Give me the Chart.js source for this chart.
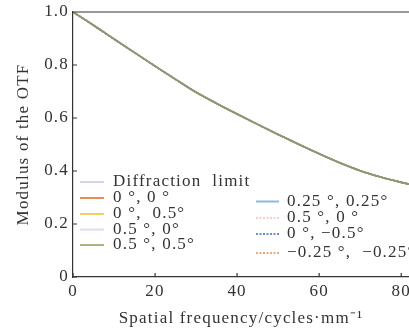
<!DOCTYPE html>
<html>
<head>
<meta charset="utf-8">
<script src="https://cdn.jsdelivr.net/npm/chart.js@4/dist/chart.umd.min.js"></script>
<style>
  body { margin: 0; background: #fff; overflow: hidden; }
  canvas { display: block; }
</style>
</head>
<body>
<canvas id="otf-chart" width="409" height="329"></canvas>
<script>
// spatial frequency (cycles/mm)
let freq = [0, 5, 10, 15, 20, 25, 30, 35, 40, 45, 50, 55, 60, 65, 70, 75, 80, 82];
// modulus of the OTF (all fields overlap the diffraction limit)
let mtf = [1.0, 0.95, 0.898, 0.847, 0.796, 0.746, 0.697, 0.655, 0.615, 0.576, 0.538, 0.501, 0.465, 0.431, 0.401, 0.377, 0.357, 0.35];

let seriesNames = ['Diffraction  limit', '0 °, 0 °', '0 °,  0.5°', '0.5 °, 0°', '0.5 °, 0.5°',
                   '0.25 °, 0.25°', '0.5 °, 0 °', '0 °, −0.5°', '−0.25 °,  −0.25°'];
let seriesColors = ['rgba(200,205,232,0.8)', 'rgba(224,112,44,0.8)', 'rgba(240,192,64,0.8)',
                    'rgba(210,214,236,0.8)', 'rgba(140,156,92,0.75)', 'rgba(91,155,213,0.7)',
                    'rgba(242,196,180,0.8)', 'rgba(70,112,196,0.8)', 'rgba(232,144,92,0.8)'];
let seriesDash = [[], [], [], [], [], [], [2, 1.5], [2, 1.5], [2, 1.5]];
// drawing order: lower is on top
let seriesOrder = [8, 4, 5, 7, 0, 1, 6, 3, 2];

let xTicks = [0, 20, 40, 60, 80];
let yTicks = [0, 0.2, 0.4, 0.6, 0.8, 1.0];

let serif = "'Liberation Serif', 'Times New Roman', serif";
let ink = '#333';

let ctx = document.getElementById('otf-chart').getContext('2d');

let datasets = seriesNames.map((name, i) => ({
    label: name,
    data: freq.map((f, k) => ({ x: f, y: mtf[k] })),
    borderColor: seriesColors[i],
    borderDash: seriesDash[i],
    borderWidth: 1.6,
    order: seriesOrder[i],
    pointRadius: 0,
    cubicInterpolationMode: 'monotone',
    fill: false
}));

// letter spacing like the original typesetting
let spacingPlugin = {
    id: 'spacing',
    beforeLayout(chart) { chart.ctx.letterSpacing = '1.2px'; },
    beforeDraw(chart) { chart.ctx.letterSpacing = '1.2px'; }
};

// inward tick marks, top frame line and the two-column legend
let decorPlugin = {
    id: 'decor',
    afterDraw(chart) {
        let c = chart.ctx;
        let a = chart.chartArea;
        let xs = chart.scales.x, ys = chart.scales.y;
        c.save();
        c.strokeStyle = ink;
        c.lineWidth = 1.2;
        c.beginPath();
        c.moveTo(a.left, a.top);
        c.lineTo(a.right, a.top);
        yTicks.forEach(v => {
            let py = ys.getPixelForValue(v);
            c.moveTo(a.left, py);
            c.lineTo(a.left + 4, py);
        });
        xTicks.forEach(v => {
            let px = xs.getPixelForValue(v);
            c.moveTo(px, a.bottom);
            c.lineTo(px, a.bottom - 4);
        });
        c.stroke();

        // legend
        let leftRows = [182, 198, 214, 229.5, 245];
        let rightRows = [201.5, 218, 234, 253];
        c.font = '17px ' + serif;
        c.letterSpacing = '1.2px';
        c.textBaseline = 'middle';
        c.fillStyle = ink;
        chart.data.datasets.forEach((ds, i) => {
            let left = i < 5;
            let y = left ? leftRows[i] : rightRows[i - 5];
            let x0 = left ? 80 : 256;
            let x1 = left ? 104 : 279;
            let tx = left ? 113 : 287;
            c.strokeStyle = ds.borderColor;
            c.lineWidth = 2;
            c.setLineDash(ds.borderDash);
            c.beginPath();
            c.moveTo(x0, y);
            c.lineTo(x1, y);
            c.stroke();
            c.setLineDash([]);
            c.fillText(ds.label, tx, y);
        });
        c.restore();
    }
};

let chartOptions = {
    responsive: false,
    animation: false,
    layout: { padding: { top: 12, left: 0, right: 0, bottom: 0 } },
    scales: {
        x: {
            type: 'linear',
            min: 0,
            max: 81.9,
            afterBuildTicks: s => { s.ticks = xTicks.map(v => ({ value: v })); },
            afterFit: s => { s.height = 52; s.paddingLeft = 0; s.paddingRight = 0; },
            grid: { display: false, drawTicks: false, tickLength: 0 },
            border: { display: true, color: ink, width: 1.2 },
            ticks: { color: ink, padding: 4, maxRotation: 0, font: { family: serif, size: 17 } },
            title: {
                display: true,
                text: 'Spatial frequency/cycles·mm⁻¹',
                color: ink,
                padding: { top: 2, bottom: 0 },
                font: { family: serif, size: 17 }
            }
        },
        y: {
            min: 0,
            max: 1,
            afterBuildTicks: s => { s.ticks = yTicks.map(v => ({ value: v })); },
            afterFit: s => { s.width = 73; s.paddingTop = 0; s.paddingBottom = 0; },
            grid: { display: false, drawTicks: false, tickLength: 0 },
            border: { display: true, color: ink, width: 1.2 },
            ticks: {
                color: ink,
                padding: 4,
                font: { family: serif, size: 17 },
                callback: v => v === 0 ? '0' : v.toFixed(1)
            },
            title: {
                display: true,
                text: 'Modulus of the OTF',
                color: ink,
                padding: { top: 13, bottom: 0 },
                font: { family: serif, size: 17 }
            }
        }
    },
    plugins: {
        legend: { display: false },
        tooltip: { enabled: false }
    }
};

let otfChart = new Chart(ctx, {
    type: 'line',
    data: { datasets: datasets },
    options: chartOptions,
    plugins: [spacingPlugin, decorPlugin]
});
</script>
</body>
</html>
